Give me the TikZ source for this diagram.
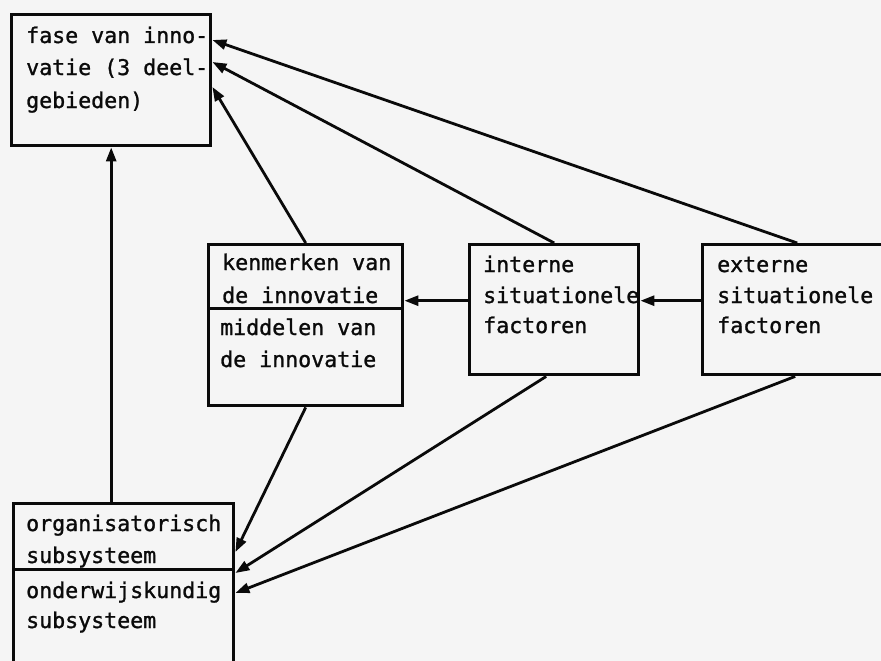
\documentclass[tikz,border=0pt]{standalone}
\usepackage{fontspec}
\setmonofont[FakeBold=1.2]{DejaVu Sans Mono}
\usetikzlibrary{arrows.meta}
\definecolor{paper}{RGB}{245,245,245}
\definecolor{ink}{RGB}{10,10,10}
\begin{document}
\begin{tikzpicture}[x=1pt,y=-1pt,
  boxstyle/.style={draw=ink,line width=3.4pt,rectangle,inner sep=0pt,anchor=north west},
  txt/.style={anchor=base west,inner sep=0pt,font=\fontsize{21.6}{32}\ttfamily,text=ink},
  arr/.style={draw=ink,line width=2.8pt,-{Triangle[length=14pt,width=10pt]}}]
\fill[paper] (0,0) rectangle (881,661);
\clip (0,0) rectangle (881,661);
% boxes
\node[boxstyle,minimum width=199pt,minimum height=131pt] (fase) at (10,13) {};
\node[boxstyle,minimum width=194pt,minimum height=64pt] (kenA) at (207,243) {};
\node[boxstyle,minimum width=194pt,minimum height=97pt] (kenB) at (207,307) {};
\node[boxstyle,minimum width=169pt,minimum height=130pt] (intern) at (468,243) {};
\node[boxstyle,minimum width=189pt,minimum height=130pt] (extern) at (701,243) {};
\node[boxstyle,minimum width=220pt,minimum height=66pt] (orgA) at (12,502) {};
\node[boxstyle,minimum width=220pt,minimum height=110pt] (orgB) at (12,568) {};
% texts
\node[txt] (t1) at (26,43) {fase van inno-};
\node[txt] (t2) at (26,75) {vatie (3 deel-};
\node[txt] (t3) at (26,108) {gebieden)};
\node[txt] (t4) at (222,270) {kenmerken van};
\node[txt] (t5) at (222,303) {de innovatie};
\node[txt] (t6) at (220,335) {middelen van};
\node[txt] (t7) at (220,367) {de innovatie};
\node[txt] (t8) at (483,272) {interne};
\node[txt] (t9) at (483,303) {situationele};
\node[txt] (t10) at (483,333) {factoren};
\node[txt] (t11) at (717,272) {externe};
\node[txt] (t12) at (717,303) {situationele};
\node[txt] (t13) at (717,333) {factoren};
\node[txt] (t14) at (26,531) {organisatorisch};
\node[txt] (t15) at (26,563) {subsysteem};
\node[txt] (t16) at (26,598) {onderwijskundig};
\node[txt] (t17) at (26,628) {subsysteem};
% connectors
\draw[arr] (orgA.north -| fase.south) -- (fase.south);
\draw[arr] (kenA.north) -- ([yshift=-74pt]fase.north east);
\draw[arr] (intern.north) -- ([yshift=-49pt]fase.north east);
\draw[arr] (extern.north) -- ([yshift=-27pt]fase.north east);
\draw[arr] (kenB.south) -- ([yshift=-50pt]orgA.north east);
\draw[arr] ([xshift=-8pt]intern.south) -- ([yshift=-5pt]orgB.north east);
\draw[arr] ([xshift=-2pt]extern.south) -- ([yshift=-25pt]orgB.north east);
\draw[arr] ([yshift=9pt]intern.west) coordinate (h1) -- (h1 -| kenA.east);
\draw[arr] ([yshift=9pt]extern.west) coordinate (h2) -- (h2 -| intern.east);
\end{tikzpicture}
\end{document}
